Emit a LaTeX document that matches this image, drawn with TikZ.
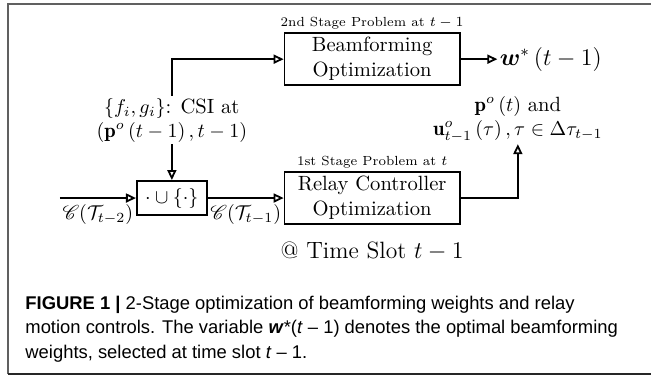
\documentclass[tikz,border=0pt]{standalone}
\usepackage{amsmath}
\usepackage{mathrsfs}
\usepackage{fontspec}
\newfontfamily\capfont{Liberation Sans}
\usetikzlibrary{arrows.meta, positioning}

\begin{document}
\begin{tikzpicture}[
    b/.style={rectangle, draw, line width=0.9pt, minimum width=3.08cm, minimum height=0.91cm, align=center, inner sep=1pt, font=\fontsize{10.3}{12.5}\selectfont},
    u/.style={rectangle, draw, line width=0.9pt, minimum width=1.23cm, minimum height=0.6cm, font=\fontsize{10.3}{12.5}\selectfont},
    txt/.style={align=center, inner sep=1pt, font=\fontsize{10.3}{12}\selectfont},
    big/.style={inner sep=1pt, font=\fontsize{11.8}{13}\selectfont},
    stage/.style={font=\fontsize{6.6}{7}\selectfont, inner sep=1.5pt},
    a/.style={-{Triangle[open, length=5pt, width=4.5pt]}, line width=0.9pt},
    fr/.style={draw=gray!75!black, line width=1pt},
    capt/.style={anchor=north west, align=left, inner sep=0pt, font=\capfont\fontsize{9.2}{12.4}\selectfont},
]
\useasboundingbox (0,0) rectangle (11.44,-6.59);

% Frame
\draw[fr] (11.44,-0.07) -- (0.14,-0.07) -- (0.14,-6.57);
\draw[fr, draw=black!85] (0.14,-6.57) -- (11.44,-6.57);

% Stages
\node[b, label={[stage]above:2nd Stage Problem at $t-1$}] (beam) at (6.54,-1.04) {Beamforming\\Optimization};
\node[b, label={[stage]above:1st Stage Problem at $t$}] (relay) at (6.54,-3.48) {Relay Controller\\Optimization};
\node[u] (union) at (3.02,-3.48) {$\cdot\cup\left\{\cdot\right\}$};
\coordinate (src) at (1.05,-3.48);

% Texts
\node[txt] (csi) at (3.02,-2.11) {$\{f_i,g_i\}$: CSI at\\$\left(\mathbf{p}^o\left(t-1\right),t-1\right)$};
\node[big, anchor=west] (wopt) at (8.74,-1.04) {$\boldsymbol{w}^*\left(t-1\right)$};
\node[txt] (out) at (9.10,-2.09) {$\mathbf{p}^o\left(t\right)$ and\\$\mathbf{u}^o_{t-1}\left(\tau\right),\tau\in\Delta\tau_{t-1}$};
\node[big, below=0.25cm of relay] (slot) {@ Time Slot $t-1$};

% Arrows
\draw[a] (src) -- node[txt, below=2pt]{$\mathscr{C}(\mathcal{T}_{t-2})$} (union);
\draw[a] (union) -- node[txt, below=2pt]{$\mathscr{C}(\mathcal{T}_{t-1})$} (relay);
\draw[a] (csi) -- (union);
\draw[a] (csi.north) |- (beam.west);
\draw[a] (beam) -- (wopt);
\draw[a] (relay) -| (out);

% Caption
\node[capt] (caption) at (0.44,-5.19) {\textbf{FIGURE 1 |} 2-Stage optimization of beamforming weights and relay\\motion controls. The variable \textbf{\textit{w}}*(\textit{t} – 1) denotes the optimal beamforming\\weights, selected at time slot \textit{t} – 1.};
\end{tikzpicture}
\end{document}
